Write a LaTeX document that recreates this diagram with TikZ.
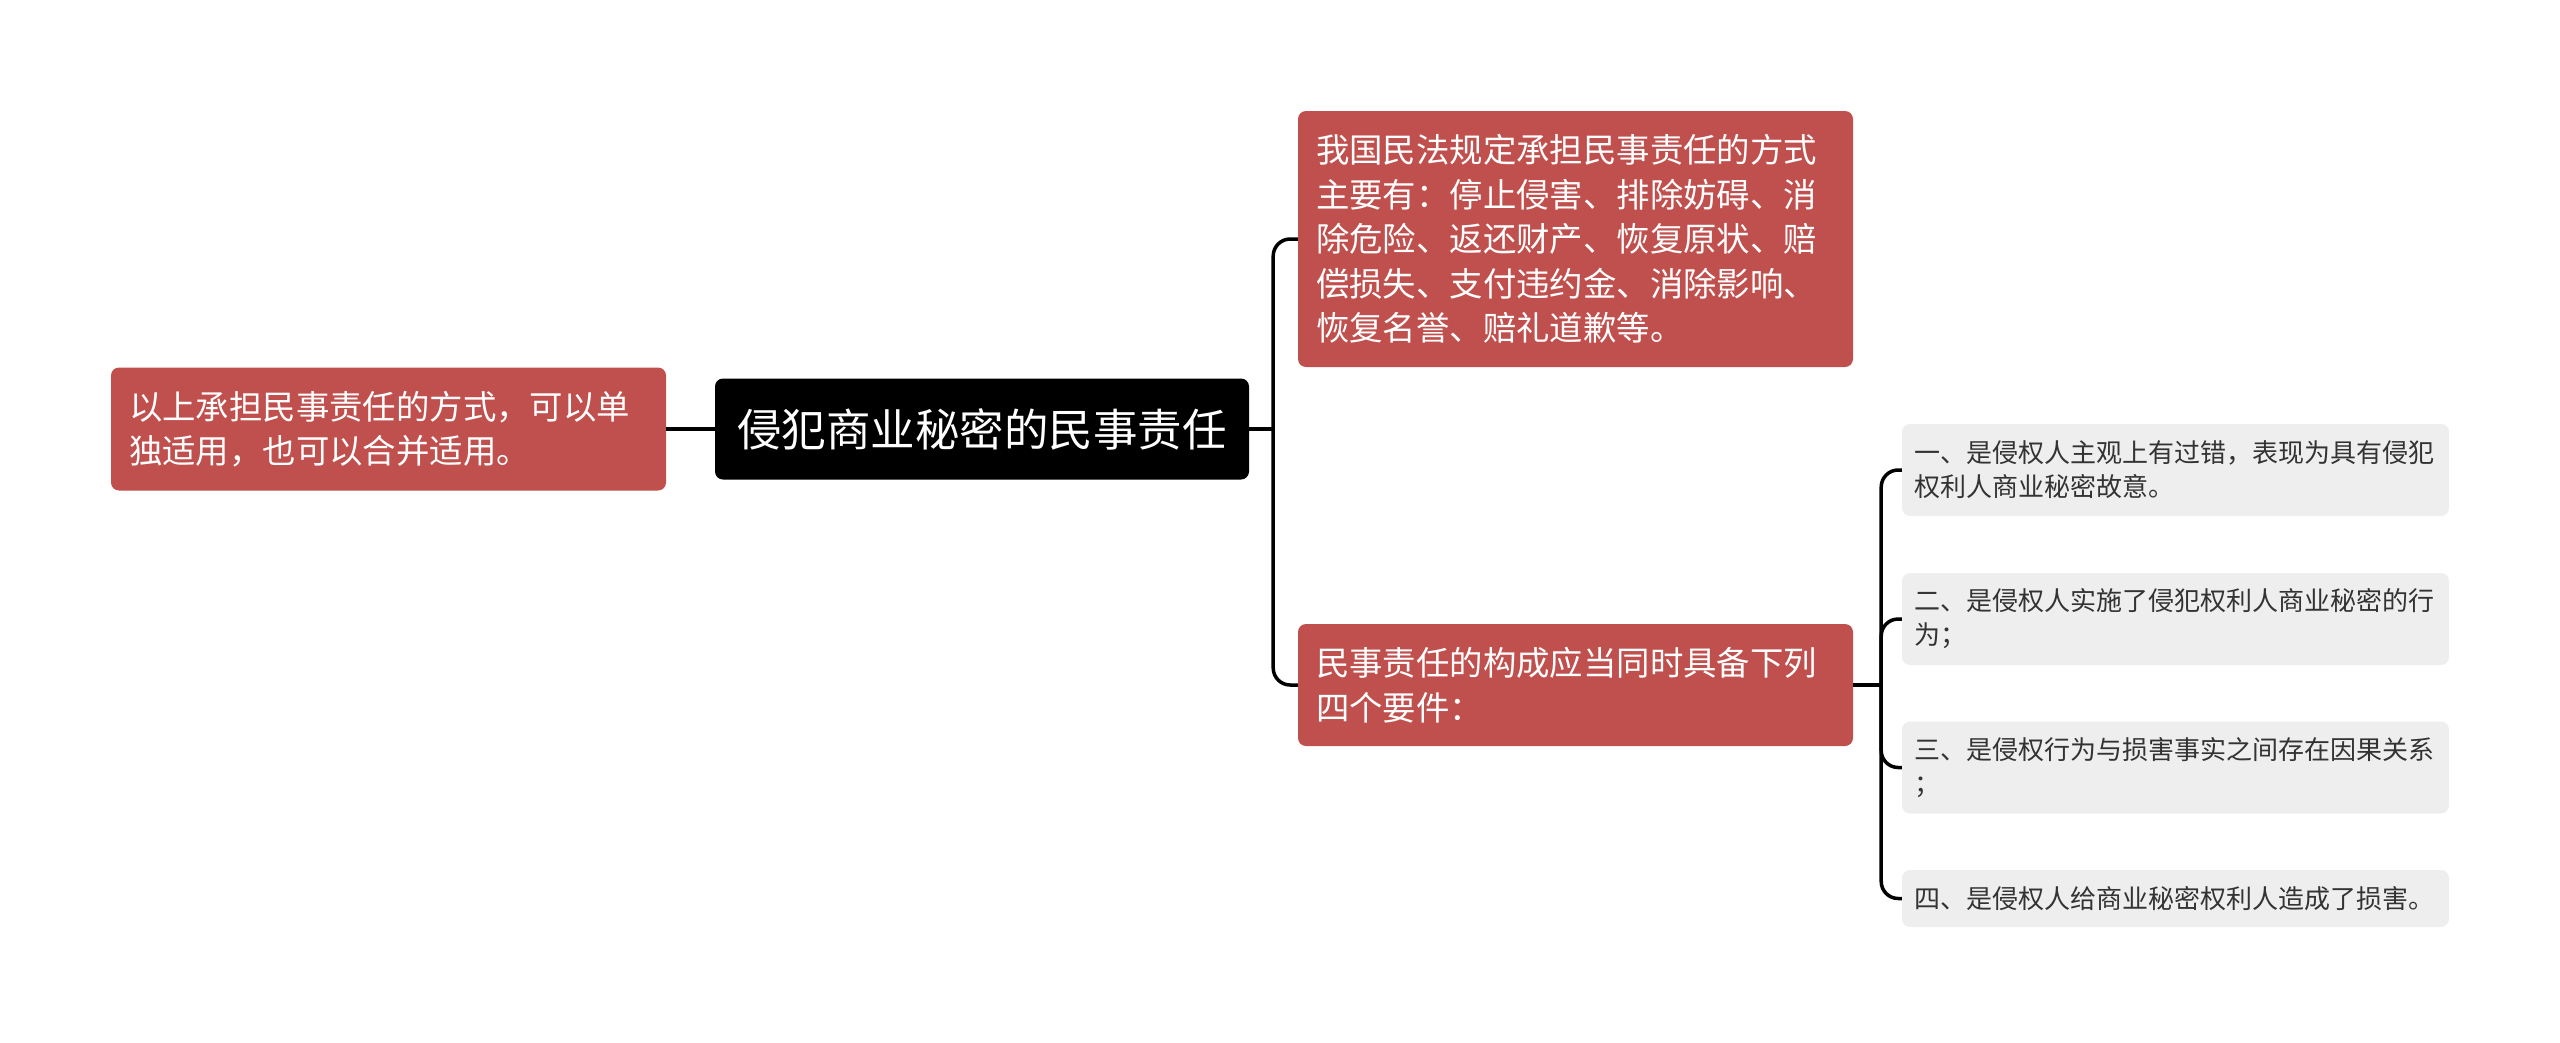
\documentclass[tikz,border=0pt]{standalone}
\usepackage{fontspec}
\newfontfamily\cjk{Noto Sans CJK SC}
\usetikzlibrary{calc}
\definecolor{redfill}{RGB}{192,80,77}
\definecolor{grayfill}{RGB}{238,238,238}
\definecolor{graytext}{RGB}{51,51,51}
\begin{document}
\begin{tikzpicture}[x=1pt,y=-1pt,
  basebox/.style={rounded corners=8pt, inner ysep=0pt, align=left},
  rootbox/.style={basebox, fill=black, text=white, align=center, inner xsep=0pt,
    minimum width=534pt, minimum height=101pt, font=\cjk\fontsize{44.5}{52}\selectfont},
  redbox/.style={basebox, fill=redfill, text=white, inner xsep=18pt, text width=519pt,
    font=\cjk\fontsize{33.4}{44.6}\selectfont},
  graybox/.style={basebox, fill=grayfill, text=graytext, inner xsep=12pt, text width=523pt,
    minimum height=92pt, font=\cjk\fontsize{26}{34}\selectfont},
  link/.style={line width=3.5pt, draw=black},
  curvelink/.style={link, rounded corners=17pt}
]
\useasboundingbox (0,0) rectangle (2560,1042);

\node[rootbox] (root) at (982,429) {侵犯商业秘密的民事责任};
\node[redbox, minimum height=123pt] (left) at (388.5,429)
  {以上承担民事责任的方式，可以单\\独适用，也可以合并适用。};
\node[redbox, minimum height=256pt] (top) at (1575.5,239)
  {我国民法规定承担民事责任的方式\\主要有：停止侵害、排除妨碍、消\\除危险、返还财产、恢复原状、赔\\偿损失、支付违约金、消除影响、\\恢复名誉、赔礼道歉等。};
\node[redbox, minimum height=122pt] (mid) at (1575.5,685)
  {民事责任的构成应当同时具备下列\\四个要件：};

\node[graybox] (g1) at (2175.5,470) {一、是侵权人主观上有过错，表现为具有侵犯\\权利人商业秘密故意。};
\node[graybox] (g2) at (2175.5,619) {二、是侵权人实施了侵犯权利人商业秘密的行\\为；};
\node[graybox] (g3) at (2175.5,767.5) {三、是侵权行为与损害事实之间存在因果关系\\；};
\node[graybox, minimum height=57pt] (g4) at (2175.5,898.5) {四、是侵权人给商业秘密权利人造成了损害。};

\coordinate (j1) at ($(root.east)+(24,0)$);
\coordinate (j2) at ($(mid.east)+(28,0)$);

\draw[link] (left.east) -- (root.west);
\draw[link] (root.east) -- (j1);
\draw[curvelink] (top.west) -| (j1);
\draw[curvelink] (mid.west) -| (j1);

\draw[link] (mid.east) -- (j2);
\draw[curvelink] (g1.west) -| (j2);
\draw[curvelink] (g2.west) -| (j2);
\draw[curvelink] (g3.west) -| (j2);
\draw[curvelink] (g4.west) -| (j2);
\end{tikzpicture}
\end{document}
